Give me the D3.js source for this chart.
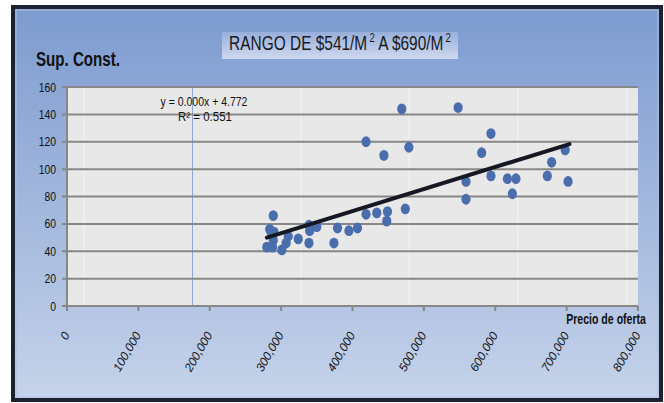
<!DOCTYPE html>
<html><head><meta charset="utf-8">
<script src="https://cdn.jsdelivr.net/npm/d3@7"></script>
<style>
html,body{margin:0;padding:0;background:#fff;}
svg{display:block;}
text{font-family:"Liberation Sans",Arial,sans-serif;}
</style></head>
<body>
<svg id="c" width="664" height="403"></svg>
<script>
// ---- data ----
const precio = [289000,284000,290000,287000,280000,288000,289000,301000,307000,310000,324000,339000,340000,350000,339000,374000,379000,395000,407000,419000,434000,449000,448000,474000,419000,444000,469000,479000,548000,559000,559000,581000,594000,594000,617000,629000,624000,673000,679000,698000,702000];
const supConst = [66,56,54,52,43,43,48,41,46,51,49,59,55,58,46,46,57,55,57,67,68,69,62,71,120,110,144,116,145,91,78,112,126,95,93,93,82,95,105,114,91];
const yTicks = [0,20,40,60,80,100,120,140,160];
const xTicks = [0,100000,200000,300000,400000,500000,600000,700000,800000];
const trendSlope = [0.0001613];
const trendIntercept = [4.772];
const trendRange = [280000,704000];
const eqLabels = ["y = 0.000x + 4.772","R² = 0.551"];

const svg = d3.select("#c");
const L=67,R=638,T=87,B=306;

// squeeze a text element horizontally to a target width around its anchor x
function squeeze(sel, ax, ay, target){
  const w = sel.node().getComputedTextLength();
  const s = target / w;
  sel.attr("x",0).attr("y",0).attr("transform",`translate(${ax},${ay}) scale(${s},1)`);
  return sel;
}

const defs = svg.append("defs");
const g1 = defs.append("linearGradient").attr("id","bg").attr("x1",0).attr("y1",0).attr("x2",0).attr("y2",1);
g1.append("stop").attr("offset","0%").attr("stop-color","#7d9bd0");
g1.append("stop").attr("offset","100%").attr("stop-color","#c6d3ea");
const g2 = defs.append("linearGradient").attr("id","tb").attr("x1",0).attr("y1",0).attr("x2",0).attr("y2",1);
g2.append("stop").attr("offset","0%").attr("stop-color","#98afdc");
g2.append("stop").attr("offset","100%").attr("stop-color","#cfd9ef");

// frame
svg.append("rect").attr("x",13).attr("y",7).attr("width",648).attr("height",393)
  .attr("fill","url(#bg)").attr("stroke","#1d2231").attr("stroke-width",4);
svg.append("rect").attr("x",16).attr("y",10).attr("width",642).attr("height",387)
  .attr("fill","none").attr("stroke","#aebfe0").attr("stroke-width",1);

const x = d3.scaleLinear().domain([0,800000]).range([L,R]);
const y = d3.scaleLinear().domain([0,160]).range([B,T]);

// plot area
svg.append("rect").attr("x",L).attr("y",T).attr("width",R-L).attr("height",B-T).attr("fill","#e8e8e8");

// faint sheet column lines
[84,301,409,518,627].forEach(cx=>{
  svg.append("line").attr("x1",cx).attr("x2",cx).attr("y1",T).attr("y2",B).attr("stroke","#f4f4f4").attr("stroke-width",1);
});
svg.append("line").attr("x1",192.5).attr("x2",192.5).attr("y1",T).attr("y2",B).attr("stroke","#8fa8d8").attr("stroke-width",1);

// gridlines + y labels
svg.append("g").selectAll("line").data(yTicks).join("line")
  .attr("x1",L-5).attr("x2",R).attr("y1",d=>y(d)).attr("y2",d=>y(d))
  .attr("stroke","#878787").attr("stroke-width",2);
svg.append("g").selectAll("text").data(yTicks).join("text")
  .attr("text-anchor","end").attr("font-size",13).attr("fill","#111").text(d=>d)
  .attr("transform",d=>`translate(56,${y(d)+4.5}) scale(0.8,1)`);
// y axis line
svg.append("line").attr("x1",L).attr("x2",L).attr("y1",T).attr("y2",B).attr("stroke","#878787").attr("stroke-width",2);
// x ticks
svg.append("g").selectAll("line").data(xTicks).join("line")
  .attr("x1",d=>x(d)).attr("x2",d=>x(d)).attr("y1",B).attr("y2",B+5)
  .attr("stroke","#878787").attr("stroke-width",2);
const fmt = d3.format(",");
svg.append("g").selectAll("text").data(xTicks).join("text")
  .attr("transform",d=>`translate(${x(d)+3},${B+29}) rotate(-60)`)
  .attr("text-anchor","end").attr("font-size",12).attr("font-style","italic").attr("fill","#111")
  .text(d=>fmt(d));

// points
svg.append("g").selectAll("ellipse").data(precio.map((p,i)=>[p,supConst[i]])).join("ellipse")
  .attr("cx",d=>x(d[0])).attr("cy",d=>y(d[1])).attr("rx",4.6).attr("ry",5.4)
  .attr("fill","#4a6dad");

// trendline
svg.append("line")
  .attr("x1",x(trendRange[0])).attr("y1",y(trendIntercept[0]+trendSlope[0]*trendRange[0]))
  .attr("x2",x(trendRange[1])).attr("y2",y(trendIntercept[0]+trendSlope[0]*trendRange[1]))
  .attr("stroke","#161824").attr("stroke-width",4).attr("stroke-linecap","round");

// equation
squeeze(svg.append("text").attr("text-anchor","middle").attr("font-size",12.5).attr("fill","#111").text(eqLabels[0]),204,106,87);
squeeze(svg.append("text").attr("text-anchor","middle").attr("font-size",12.5).attr("fill","#111").text(eqLabels[1]),205,121,54);

// axis titles
squeeze(svg.append("text").attr("font-size",21).attr("font-weight","bold").attr("fill","#111").text("Sup. Const."),36,66,84);
squeeze(svg.append("text").attr("text-anchor","end").attr("font-size",14).attr("font-weight","bold").attr("fill","#111").text("Precio de oferta"),646,324,80);

// title
svg.append("rect").attr("x",222).attr("y",32).attr("width",236).attr("height",27).attr("fill","url(#tb)");
const t = svg.append("text").attr("text-anchor","middle").attr("font-size",21).attr("fill","#1a1a1a");
t.append("tspan").text("RANGO DE $541/M");
t.append("tspan").attr("font-size",13).attr("dy",-8).attr("dx",3).text("2");
t.append("tspan").attr("dy",8).text(" A $690/M");
t.append("tspan").attr("font-size",13).attr("dy",-8).attr("dx",3).text("2");
{
  const bb = t.node().getBBox();
  const s = 222/bb.width;
  t.attr("transform",`translate(340,50) scale(${s},1)`);
}
</script>
</body></html>
